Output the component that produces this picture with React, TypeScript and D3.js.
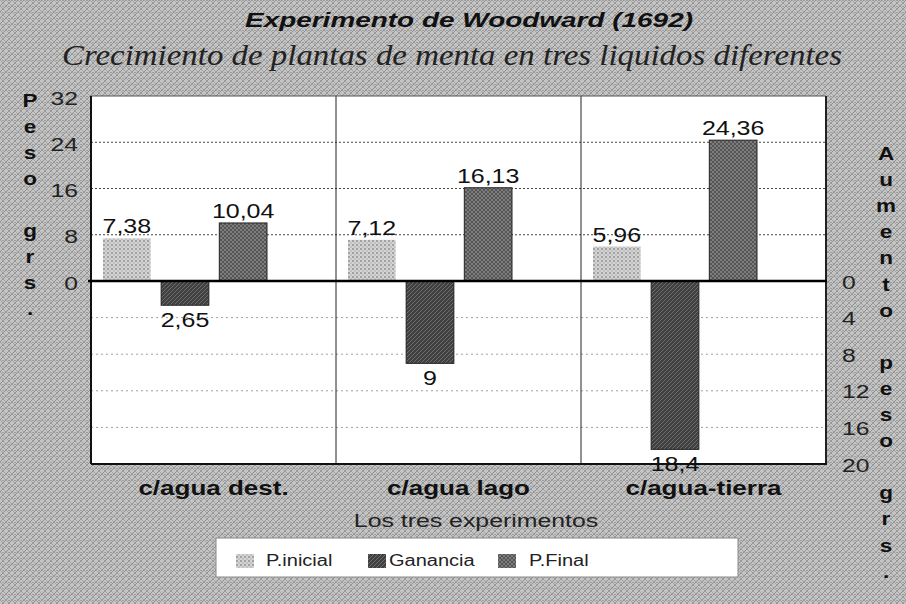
import React, { useRef, useEffect } from "react";
import * as d3 from "d3";

// values
const categories = ["c/agua dest.", "c/agua lago", "c/agua-tierra"];
const seriesNames = ["P.inicial", "Ganancia", "P.Final"];
const pesoInicial = [7.38, 7.12, 5.96];
const ganancia = [2.65, 9, 18.4];
const pesoFinal = [10.04, 16.13, 24.36];
const pesoTicks = [0, 8, 16, 24, 32];
const aumentoTicks = [0, 4, 8, 12, 16, 20];
const leftTitle = "Peso grs.";
const rightTitle = "Aumento peso grs.";

const SANS = "Arial, 'Liberation Sans', Helvetica, sans-serif";
const SERIF = "'Times New Roman', 'Liberation Serif', serif";

const App = () => {
  const ref = useRef<SVGSVGElement>(null);

  useEffect(() => {
    const W = 906;
    const H = 604;
    const left = 91, right = 826, top = 96, zero = 281, bottom = 464;
    const sx = 1.3; // the scan is stretched horizontally

    const svg = d3.select(ref.current);
    svg.selectAll("*").remove();

    // patterns imitating the halftone of the scan
    const defs = svg.append("defs");
    const bg = defs.append("pattern").attr("id", "bgPat").attr("width", 6).attr("height", 6)
      .attr("patternUnits", "userSpaceOnUse");
    bg.append("rect").attr("width", 6).attr("height", 6).attr("fill", "#c4c4c4");
    bg.append("path").attr("d", "M0,6 L6,0 M-1,1 L1,-1 M5,7 L7,5").attr("stroke", "#8a8a8a").attr("stroke-width", 0.9);
    bg.append("path").attr("d", "M0,0 L6,6 M-1,5 L1,7 M5,-1 L7,1").attr("stroke", "#9a9a9a").attr("stroke-width", 0.8);
    bg.append("circle").attr("cx", 3).attr("cy", 0.5).attr("r", 0.6).attr("fill", "#7a7a7a");

    const pIni = defs.append("pattern").attr("id", "iniPat").attr("width", 4).attr("height", 4)
      .attr("patternUnits", "userSpaceOnUse");
    pIni.append("rect").attr("width", 4).attr("height", 4).attr("fill", "#d4d4d4");
    pIni.append("circle").attr("cx", 1).attr("cy", 1).attr("r", 0.9).attr("fill", "#8a8a8a");
    pIni.append("circle").attr("cx", 3).attr("cy", 3).attr("r", 0.7).attr("fill", "#a0a0a0");

    const pGan = defs.append("pattern").attr("id", "ganPat").attr("width", 4).attr("height", 4)
      .attr("patternUnits", "userSpaceOnUse");
    pGan.append("rect").attr("width", 4).attr("height", 4).attr("fill", "#404040");
    pGan.append("path").attr("d", "M0,4 L4,0").attr("stroke", "#7a7a7a").attr("stroke-width", 0.8);

    const pFin = defs.append("pattern").attr("id", "finPat").attr("width", 4).attr("height", 4)
      .attr("patternUnits", "userSpaceOnUse");
    pFin.append("rect").attr("width", 4).attr("height", 4).attr("fill", "#555555");
    pFin.append("path").attr("d", "M0,4 L4,0 M0,0 L4,4").attr("stroke", "#8e8e8e").attr("stroke-width", 0.7);

    const fills: Record<string, string> = {
      "P.inicial": "url(#iniPat)",
      "Ganancia": "url(#ganPat)",
      "P.Final": "url(#finPat)",
    };

    svg.append("rect").attr("width", W).attr("height", H).attr("fill", "url(#bgPat)");

    // scales
    const x = d3.scaleBand().domain(categories).range([left, right]);
    const inner = d3.scaleBand().domain(seriesNames).range([12, 176]).paddingInner(0.18);
    const yUp = d3.scaleLinear().domain([0, 32]).range([zero, top]);
    const yDown = d3.scaleLinear().domain([0, 20]).range([zero, bottom]);

    // plot area
    svg.append("rect").attr("x", left).attr("y", top).attr("width", right - left)
      .attr("height", bottom - top).attr("fill", "#fff");

    svg.append("g").selectAll("line").data(pesoTicks.filter(t => t > 0 && t < 32)).join("line")
      .attr("x1", left).attr("x2", right).attr("y1", d => yUp(d)).attr("y2", d => yUp(d))
      .attr("stroke", "#444").attr("stroke-dasharray", "2,2");
    svg.append("g").selectAll("line").data(aumentoTicks.filter(t => t > 0 && t < 20)).join("line")
      .attr("x1", left).attr("x2", right).attr("y1", d => yDown(d)).attr("y2", d => yDown(d))
      .attr("stroke", "#a0a0a0").attr("stroke-dasharray", "2,3");

    // category dividers
    svg.append("g").selectAll("line").data(categories.slice(1)).join("line")
      .attr("x1", d => x(d)!).attr("x2", d => x(d)!).attr("y1", top).attr("y2", bottom)
      .attr("stroke", "#222").attr("stroke-width", 1);

    const rows = categories.map((c, i) => ({
      cat: c,
      values: [
        { name: "P.inicial", v: pesoInicial[i], up: true },
        { name: "Ganancia", v: ganancia[i], up: false },
        { name: "P.Final", v: pesoFinal[i], up: true },
      ],
    }));

    const fmt = (v: number) => String(v).replace(".", ",");

    const groups = svg.append("g").selectAll("g").data(rows).join("g")
      .attr("transform", d => `translate(${x(d.cat)},0)`);

    groups.selectAll("rect").data(d => d.values).join("rect")
      .attr("x", d => inner(d.name)!)
      .attr("width", inner.bandwidth())
      .attr("y", d => (d.up ? yUp(d.v) : zero))
      .attr("height", d => (d.up ? zero - yUp(d.v) : yDown(d.v) - zero))
      .attr("fill", d => fills[d.name])
      .attr("stroke", d => (d.name === "P.inicial" ? "none" : "#222"))
      .attr("stroke-width", 1);

    groups.selectAll("text").data(d => d.values).join("text")
      .attr("transform", d => {
        const cx = inner(d.name)! + inner.bandwidth() / 2;
        const ty = d.up ? yUp(d.v) - 5 : yDown(d.v) + 22;
        return `translate(${cx},${ty}) scale(1.25,1)`;
      })
      .attr("text-anchor", "middle")
      .style("font-family", SANS).style("font-size", "20px").attr("fill", "#111")
      .text(d => fmt(d.v));

    // frame
    const frame = svg.append("g").attr("fill", "none");
    frame.append("line").attr("x1", left).attr("x2", right).attr("y1", top).attr("y2", top)
      .attr("stroke", "#555").attr("stroke-width", 1);
    frame.append("line").attr("x1", left).attr("x2", left).attr("y1", top).attr("y2", bottom)
      .attr("stroke", "#111").attr("stroke-width", 2);
    frame.append("line").attr("x1", right).attr("x2", right).attr("y1", top).attr("y2", bottom)
      .attr("stroke", "#222").attr("stroke-width", 2);
    frame.append("line").attr("x1", left).attr("x2", right + 1).attr("y1", bottom).attr("y2", bottom)
      .attr("stroke", "#111").attr("stroke-width", 2);
    frame.append("line").attr("x1", left - 3).attr("x2", right + 1).attr("y1", zero).attr("y2", zero)
      .attr("stroke", "#000").attr("stroke-width", 2.5);

    // axes (labels only)
    const leftAxis = svg.append("g").attr("transform", `translate(78,2)`)
      .call(d3.axisLeft(yUp).tickValues(pesoTicks).tickSize(0).tickPadding(0));
    leftAxis.select(".domain").remove();
    leftAxis.selectAll("text").attr("x", 0).attr("transform", `scale(${sx},1)`)
      .style("font-family", SANS).style("font-size", "19px").attr("fill", "#222");

    const rightAxis = svg.append("g").attr("transform", `translate(842,1)`)
      .call(d3.axisRight(yDown).tickValues(aumentoTicks).tickSize(0).tickPadding(0));
    rightAxis.select(".domain").remove();
    rightAxis.selectAll("text").attr("x", 0).attr("transform", `scale(${sx},1)`)
      .style("font-family", SANS).style("font-size", "19px").attr("fill", "#222");

    const stretched = (tx: number, ty: number, s: string, size: number, weight: string,
      anchor: string, k: number, fill = "#111") =>
      svg.append("text").attr("transform", `translate(${tx},${ty}) scale(${k},1)`)
        .attr("text-anchor", anchor).style("font-family", SANS)
        .style("font-size", `${size}px`).style("font-weight", weight).attr("fill", fill).text(s);

    // stacked axis titles
    leftTitle.split("").forEach((ch, i) => {
      if (ch !== " ") stretched(30, 107 + i * 26, ch, 18, "bold", "middle", 1.25);
    });
    rightTitle.split("").forEach((ch, i) => {
      if (ch !== " ") stretched(886, 160 + i * 26.1, ch, 18, "bold", "middle", 1.25);
    });

    // category labels
    categories.forEach(c => {
      stretched(x(c)! + x.bandwidth() / 2, 495, c, 20, "bold", "middle", 1.3);
    });
    stretched(476, 527, "Los tres experimentos", 18, "normal", "middle", 1.38, "#222");

    // titles
    svg.append("text").attr("x", 245).attr("y", 27)
      .attr("textLength", 448).attr("lengthAdjust", "spacingAndGlyphs")
      .style("font-family", SANS).style("font-size", "21px").style("font-weight", "bold")
      .style("font-style", "italic").attr("fill", "#111")
      .text("Experimento de Woodward (1692)");
    svg.append("text").attr("x", 62).attr("y", 65)
      .attr("textLength", 780).attr("lengthAdjust", "spacingAndGlyphs")
      .style("font-family", SERIF).style("font-size", "29px")
      .style("font-style", "italic").attr("fill", "#222")
      .text("Crecimiento de plantas de menta en tres liquidos diferentes");

    // legend
    const legend = svg.append("g");
    legend.append("rect").attr("x", 216).attr("y", 538).attr("width", 522).attr("height", 39)
      .attr("fill", "#fff").attr("stroke", "#888").attr("stroke-width", 1);
    const swatchX = [236, 368, 498];
    const labelX = [266, 389, 529];
    seriesNames.forEach((s, i) => {
      legend.append("rect").attr("x", swatchX[i]).attr("y", 554).attr("width", 18).attr("height", 14)
        .attr("fill", fills[s]);
      legend.append("text").attr("transform", `translate(${labelX[i]},566) scale(1.25,1)`)
        .style("font-family", SANS).style("font-size", "16px").attr("fill", "#222").text(s);
    });
  }, []);

  return (
    <svg
      ref={ref}
      width={906}
      height={604}
      style={{ position: "absolute", left: 0, top: 0, display: "block" }}
    />
  );
};

export default App;
